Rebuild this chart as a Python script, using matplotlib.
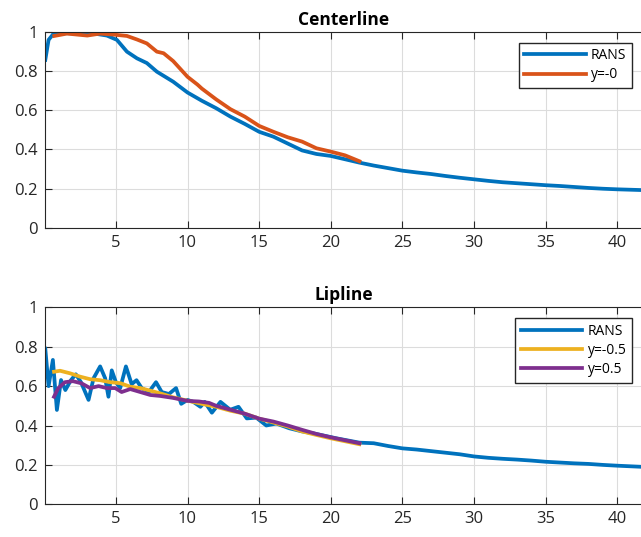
import numpy as np
import matplotlib
matplotlib.use("Agg")
import matplotlib.pyplot as plt

plt.rcParams['font.family'] = ['Open Sans', 'DejaVu Sans']

# centerline decay
c_rans_x = [0.07, 0.3, 0.65, 1.5, 2.5, 3.5, 4.37, 5.07, 5.77, 6.47, 7.16, 7.86, 9.0, 10.0,
            11.0, 12.0, 13.0, 14.0, 15.0, 16.0, 17.0, 18.0, 19.0, 20.0, 21.0, 22.0, 23.0,
            24.0, 25.0, 26.0, 27.0, 28.0, 29.0, 30.0, 31.0, 32.0, 33.0, 34.0, 35.0, 36.0,
            37.0, 38.0, 39.0, 40.0, 41.8]
c_rans_y = [0.856, 0.958, 0.99, 0.992, 0.99, 0.99, 0.98, 0.958, 0.898, 0.864, 0.84, 0.796,
            0.745, 0.69, 0.648, 0.61, 0.567, 0.53, 0.49, 0.465, 0.43, 0.395, 0.377, 0.367,
            0.35, 0.333, 0.318, 0.305, 0.292, 0.283, 0.275, 0.265, 0.256, 0.248, 0.24, 0.233,
            0.228, 0.223, 0.218, 0.214, 0.209, 0.204, 0.2, 0.197, 0.193]
c_les_x = [0.7, 1.58, 3.0, 3.9, 4.84, 5.77, 6.47, 7.16, 7.86, 8.33, 9.0, 10.0, 10.7,
           11.0, 12.0, 13.0, 14.0, 15.0, 16.0, 17.0, 18.0, 19.0, 20.0, 21.0, 22.0]
c_les_y = [0.978, 0.99, 0.98, 0.99, 0.985, 0.978, 0.96, 0.94, 0.898, 0.89, 0.85, 0.77, 0.73,
           0.71, 0.655, 0.605, 0.567, 0.52, 0.49, 0.462, 0.44, 0.406, 0.389, 0.37, 0.34]

# lipline decay
l_rans_x = [0.07, 0.3, 0.6, 0.88, 1.17, 1.47, 1.86, 2.2, 2.56, 3.09, 3.44, 3.9, 4.25, 4.48,
            4.71, 5.0, 5.3, 5.7, 6.1, 6.44, 6.8, 7.3, 7.8, 8.2, 8.7, 9.2, 9.56, 10.0, 10.4,
            10.9, 11.2, 11.7, 12.3, 12.98, 13.56, 14.14, 14.8, 15.5, 16.2, 17.1, 18.0, 18.8,
            20.4, 22.0, 23.0, 24.0, 25.0, 26.0, 27.0, 28.0, 29.0, 30.0, 31.0, 32.0, 33.0,
            34.0, 35.0, 36.0, 37.0, 38.0, 39.0, 40.0, 41.8]
l_rans_y = [0.79, 0.6, 0.733, 0.479, 0.631, 0.58, 0.63, 0.66, 0.62, 0.53, 0.64, 0.70, 0.64,
            0.546, 0.68, 0.62, 0.59, 0.70, 0.61, 0.63, 0.59, 0.57, 0.62, 0.57, 0.56, 0.59,
            0.51, 0.53, 0.52, 0.495, 0.52, 0.465, 0.52, 0.48, 0.495, 0.436, 0.44, 0.40, 0.41,
            0.386, 0.37, 0.36, 0.335, 0.313, 0.31, 0.296, 0.284, 0.278, 0.27, 0.262, 0.254,
            0.243, 0.236, 0.231, 0.227, 0.222, 0.216, 0.212, 0.208, 0.205, 0.2, 0.196, 0.19]
l_neg_x = [0.68, 1.1, 1.8, 2.5, 3.2, 3.9, 4.6, 5.3, 6.0, 6.7, 7.4, 8.1, 9.0, 10.0, 11.0,
           12.0, 13.0, 14.0, 15.0, 16.0, 17.0, 18.0, 19.0, 20.0, 21.0, 22.0]
l_neg_y = [0.673, 0.678, 0.665, 0.648, 0.635, 0.63, 0.62, 0.615, 0.597, 0.59, 0.577, 0.563,
           0.543, 0.526, 0.51, 0.495, 0.475, 0.46, 0.435, 0.415, 0.395, 0.37, 0.352, 0.335,
           0.32, 0.305]
l_pos_x = [0.68, 0.98, 1.44, 2.0, 2.6, 3.2, 3.79, 4.37, 4.95, 5.4, 6.0, 6.7, 7.4, 8.1, 9.0,
           10.0, 10.8, 11.5, 12.0, 13.0, 14.0, 15.0, 16.0, 17.0, 18.0, 19.0, 20.0, 21.0, 22.0]
l_pos_y = [0.546, 0.59, 0.62, 0.625, 0.614, 0.59, 0.60, 0.59, 0.59, 0.57, 0.585, 0.57, 0.555,
           0.55, 0.54, 0.525, 0.522, 0.515, 0.5, 0.48, 0.46, 0.435, 0.42, 0.4, 0.378, 0.357,
           0.34, 0.325, 0.31]

blue = '#0072BD'
orange = '#D95319'
yellow = '#EDB120'
purple = '#7E2F8E'
dark = '#262626'

fig = plt.figure(figsize=(6.41, 5.37), dpi=100)
ax1 = fig.add_axes([45 / 641, 0.5754, 598 / 641, 0.3657])
ax2 = fig.add_axes([45 / 641, 0.0609, 598 / 641, 0.3668])


def style(ax, title):
    ax.set_xlim(0.05, 41.8)
    ax.set_ylim(0, 1)
    ax.set_xticks(np.arange(5, 45, 5))
    ax.set_yticks([0, 0.2, 0.4, 0.6, 0.8, 1])
    ax.set_yticklabels(['0', '0.2', '0.4', '0.6', '0.8', '1'])
    ax.grid(True, color='#dcdcdc', linewidth=0.8)
    ax.set_axisbelow(True)
    ax.tick_params(direction='in', top=True, right=False, length=5, width=0.8,
                   labelsize=12, colors=dark, pad=5)
    for s in ax.spines.values():
        s.set_color(dark)
        s.set_linewidth(0.8)
    ax.set_title(title, fontsize=12.5, fontweight='bold', pad=5)


ax1.plot(c_rans_x, c_rans_y, color=blue, lw=2.7, label='RANS')
ax1.plot(c_les_x, c_les_y, color=orange, lw=2.7, label='y=-0')
style(ax1, 'Centerline')
ax1.legend(loc='upper right', bbox_to_anchor=(632 / 641, 1 - 42.7 / 537),
           bbox_transform=fig.transFigure, fancybox=False, edgecolor=dark,
           framealpha=1, fontsize=10, handlelength=4.4, handletextpad=0.4,
           borderpad=0.4, labelspacing=0.3, borderaxespad=0)

ax2.plot(l_rans_x, l_rans_y, color=blue, lw=2.7, label='RANS')
ax2.plot(l_neg_x, l_neg_y, color=yellow, lw=2.7, label='y=-0.5')
ax2.plot(l_pos_x, l_pos_y, color=purple, lw=2.7, label='y=0.5')
style(ax2, 'Lipline')
ax2.legend(loc='upper right', bbox_to_anchor=(632 / 641, 1 - 318.3 / 537),
           bbox_transform=fig.transFigure, fancybox=False, edgecolor=dark,
           framealpha=1, fontsize=10, handlelength=4.4, handletextpad=0.4,
           borderpad=0.4, labelspacing=0.3, borderaxespad=0)

fig.savefig('out.png', dpi=100)
